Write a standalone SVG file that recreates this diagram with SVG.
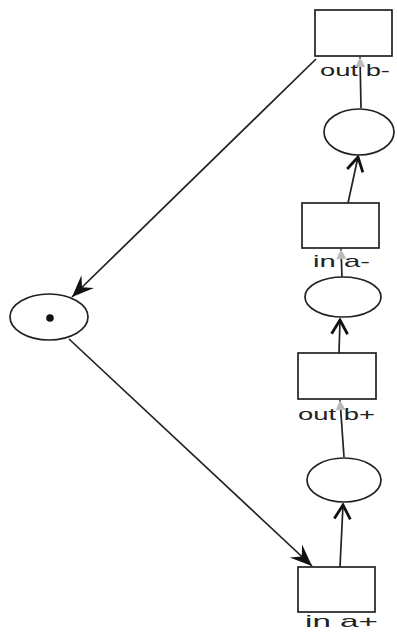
<svg xmlns="http://www.w3.org/2000/svg" width="397" height="633" viewBox="0 0 397 633">
<style>
.node{fill:#fff;stroke:#222;stroke-width:1.7}
.lbl{font-family:"Liberation Sans",Arial,sans-serif;font-size:17px;fill:#222}
.arc{fill:none;stroke:#222;stroke-width:1.7}
</style>
<defs>
<marker id="fill" viewBox="-24 -11 26 22" refX="0" refY="0" markerWidth="26" markerHeight="22" markerUnits="userSpaceOnUse" orient="auto">
<path d="M0,0 L-22,-9 L-14,0 L-22,9 Z" fill="#111"/>
</marker>
<marker id="chev" viewBox="-16 -10 18 20" refX="0" refY="0" markerWidth="18" markerHeight="20" markerUnits="userSpaceOnUse" orient="auto">
<path d="M-14,-8 L0,0 L-14,8" fill="none" stroke="#111" stroke-width="2.8"/>
</marker>
<marker id="gray" viewBox="-12 -7 14 14" refX="0" refY="0" markerWidth="14" markerHeight="14" markerUnits="userSpaceOnUse" orient="auto">
<path d="M0,0 L-10,-5 L-10,5 Z" fill="#bbb"/>
</marker>
</defs>
<g id="connectors">
<line class="arc" x1="348" y1="203" x2="358" y2="157" marker-end="url(#chev)"/>
<line class="arc" x1="361" y1="108" x2="360" y2="57" marker-end="url(#gray)"/>
<line class="arc" x1="316" y1="59" x2="72" y2="297" marker-end="url(#fill)"/>
<line class="arc" x1="69" y1="339" x2="312" y2="566" marker-end="url(#fill)"/>
<line class="arc" x1="340" y1="567" x2="343" y2="505" marker-end="url(#chev)"/>
<line class="arc" x1="344" y1="457" x2="340" y2="400" marker-end="url(#gray)"/>
<line class="arc" x1="339" y1="353" x2="340" y2="320" marker-end="url(#chev)"/>
<line class="arc" x1="342" y1="277" x2="341" y2="249" marker-end="url(#gray)"/>
</g>
<g id="t-out-b-minus">
<rect class="node" x="315" y="10" width="77" height="46"/>
<text class="lbl" x="320" y="76" textLength="70" lengthAdjust="spacingAndGlyphs">out b-</text>
</g>
<g id="p1">
<ellipse class="node" cx="359" cy="132" rx="35" ry="23"/>
</g>
<g id="t-in-a-minus">
<rect class="node" x="302" y="203" width="77" height="45"/>
<text class="lbl" x="313" y="267" textLength="57" lengthAdjust="spacingAndGlyphs">in a-</text>
</g>
<g id="p2">
<ellipse class="node" cx="343" cy="297" rx="38" ry="20"/>
</g>
<g id="t-out-b-plus">
<rect class="node" x="298" y="353" width="78" height="46"/>
<text class="lbl" x="298" y="420" textLength="77" lengthAdjust="spacingAndGlyphs">out b+</text>
</g>
<g id="p3">
<ellipse class="node" cx="344" cy="480" rx="37" ry="22"/>
</g>
<g id="t-in-a-plus">
<rect class="node" x="298" y="567" width="77" height="45"/>
<text class="lbl" x="305" y="627" textLength="73" lengthAdjust="spacingAndGlyphs">in a+</text>
</g>
<g id="p0">
<ellipse class="node" cx="49" cy="317" rx="39" ry="23"/>
<circle cx="50" cy="318" r="3.8" fill="#111"/>
</g>
</svg>
